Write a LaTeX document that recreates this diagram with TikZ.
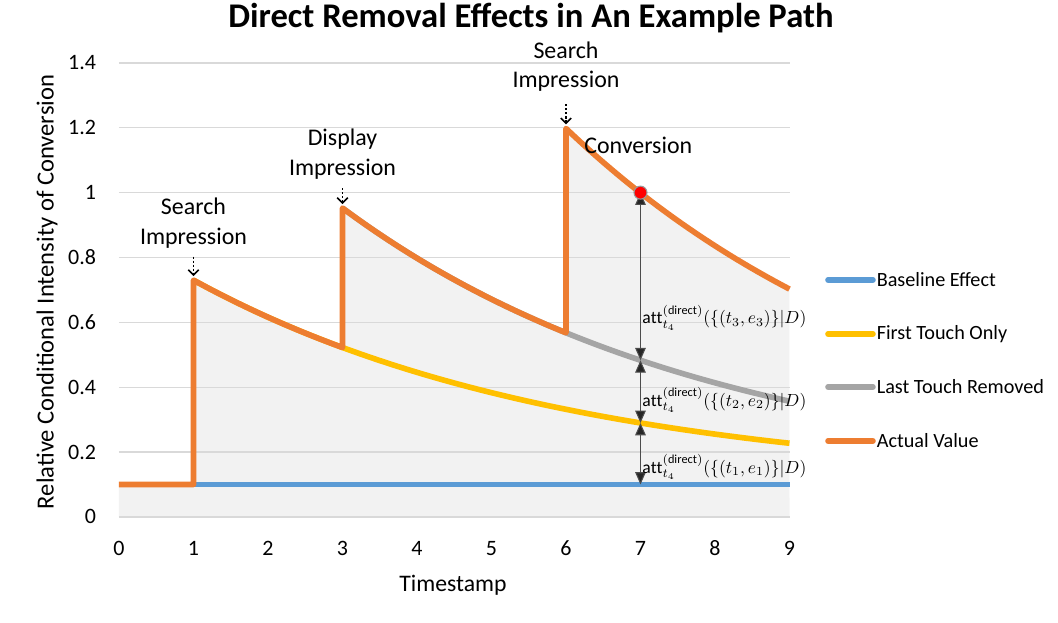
\documentclass[tikz,border=0pt]{standalone}
\usepackage{fontspec}
\setmainfont{Carlito}
\usepackage{amsmath}
\usetikzlibrary{arrows.meta}
\definecolor{baseblue}{HTML}{5B9BD5}
\definecolor{firstyellow}{HTML}{FFC000}
\definecolor{lastgray}{HTML}{A5A5A5}
\definecolor{actorange}{HTML}{ED7D31}
\definecolor{gridgray}{HTML}{D9D9D9}
\definecolor{areagray}{HTML}{F2F2F2}

\begin{document}
\begin{tikzpicture}[x=1.49cm, y=6.486cm,
  declare function={ea(\t)=0.63*exp(-0.2*(\t-1));
                     eb(\t)=0.43*exp(-0.2*(\t-3));
                     ec(\t)=0.63*exp(-0.2*(\t-6));}]
\tikzstyle{curve}=[line width=3.2pt, line join=round]
\tikzstyle{grid}=[draw=gridgray, line width=0.8pt]
\tikzstyle{tick}=[font=\fontsize{12.5}{14}\selectfont, inner sep=1pt]
\tikzstyle{lbl}=[font=\fontsize{13.6}{17}\selectfont, align=center, inner sep=1pt]
\tikzstyle{legtxt}=[anchor=west, font=\fontsize{11.5}{13}\selectfont, inner sep=2pt]
\tikzstyle{attlbl}=[anchor=west, font=\fontsize{10}{12}\selectfont, inner sep=0pt]
\tikzstyle{pointer}=[dash pattern=on 1.3pt off 1pt, line width=0.9pt, -{Straight Barb[length=3pt,width=6pt]},
                     shorten >=0.08cm]
\tikzstyle{gap}=[draw=black!70, line width=0.6pt,
                 {Triangle[length=7pt,width=6pt,fill=black!85]}-{Triangle[length=7pt,width=6pt,fill=black!85]}]
\useasboundingbox (-1.597,-0.327) rectangle (12.604,1.594);

% shaded area under the actual value
\fill[areagray] (0,0) -- (0,0.1) -- (1,0.1) -- (1,{0.1+ea(1)})
  -- plot[domain=1:3, samples=30] (\x,{0.1+ea(\x)})
  -- plot[domain=3:6, samples=30] (\x,{0.1+ea(\x)+eb(\x)})
  -- plot[domain=6:9, samples=30] (\x,{0.1+ea(\x)+eb(\x)+ec(\x)})
  -- (9,0) -- cycle;

% grid and axis labels
\foreach \v/\l in {0/0, 0.2/0.2, 0.4/0.4, 0.6/0.6, 0.8/0.8, 1/1, 1.2/1.2, 1.4/1.4}{
  \draw[grid] (0,\v) -- (9,\v);
  \node[tick, anchor=east] (yt\l) at (-0.28,\v) {\l};
}
\foreach \x in {0,...,9}
  \node[tick] (xt\x) at (\x,-0.096) {\x};

\node[font=\fontsize{13.5}{15}\selectfont] (xlab) at (4.483,-0.21) {Timestamp};
\node[font=\fontsize{14}{16}\selectfont, rotate=90] (ylab) at (-0.966,0.694)
  {Relative Conditional Intensity of Conversion};
\node[font=\fontsize{19.7}{22}\selectfont\bfseries] (title) at (5.53,1.539)
  {Direct Removal Effects in An Example Path};

% curves
\draw[curve, baseblue] (0,0.1) -- (9,0.1);
\draw[curve, firstyellow] plot[domain=1:9, samples=40] (\x,{0.1+ea(\x)});
\draw[curve, lastgray] plot[domain=3:9, samples=40] (\x,{0.1+ea(\x)+eb(\x)});
\draw[curve, actorange] (0,0.1) -- (1,0.1) -- (1,{0.1+ea(1)})
  -- plot[domain=1:3, samples=30] (\x,{0.1+ea(\x)})
  -- plot[domain=3:6, samples=30] (\x,{0.1+ea(\x)+eb(\x)})
  -- plot[domain=6:9, samples=30] (\x,{0.1+ea(\x)+eb(\x)+ec(\x)});

% touch points
\coordinate (p1) at (1,{0.1+ea(1)});
\coordinate (p2) at (3,{0.1+ea(3)+eb(3)});
\coordinate (p3) at (6,{0.1+ea(6)+eb(6)+ec(6)});
\coordinate (q1) at (1,0.803);
\coordinate (q2) at (3,1.014);
\coordinate (q3) at (6,1.273);
\node[lbl] (s1) at (1,0.9066) {Search\\Impression};
\node[lbl] (s2) at (3,1.1178) {Display\\Impression};
\node[lbl] (s3) at (6,1.3886) {Search\\Impression};
\node[lbl] (conv) at (6.97,1.147) {Conversion};
\draw[pointer] (q1) -- (p1);
\draw[pointer] (q2) -- (p2);
\draw[pointer] (q3) -- (p3);

% removal effects at t = 7
\coordinate (d0) at (7,1);
\coordinate (d1) at (7,{0.1+ea(7)+eb(7)});
\coordinate (d2) at (7,{0.1+ea(7)});
\coordinate (d3) at (7,0.1);
\draw[gap] (d0) -- (d1);
\draw[gap] (d1) -- (d2);
\draw[gap] (d2) -- (d3);
\node[circle, fill=red, draw=black!40, line width=0.6pt, minimum size=0.26cm, inner sep=0pt] (conpt) at (d0) {};
\node[attlbl] (att3) at (7.02,0.614) {$\mathrm{att}_{t_4}^{(\mathrm{direct})}(\{(t_3,e_3)\}|D)$};
\node[attlbl] (att2) at (7.02,0.361) {$\mathrm{att}_{t_4}^{(\mathrm{direct})}(\{(t_2,e_2)\}|D)$};
\node[attlbl] (att1) at (7.02,0.154) {$\mathrm{att}_{t_4}^{(\mathrm{direct})}(\{(t_1,e_1)\}|D)$};

% legend
\node[legtxt] (lg1) at (10.12,0.7308) {Baseline Effect};
\node[legtxt] (lg2) at (10.12,0.5643) {First Touch Only};
\node[legtxt] (lg3) at (10.12,0.4009) {Last Touch Removed};
\node[legtxt] (lg4) at (10.12,0.2343) {Actual Value};
\coordinate (m1) at (9.517,0.7308);
\coordinate (m2) at (9.517,0.5643);
\coordinate (m3) at (9.517,0.4009);
\coordinate (m4) at (9.517,0.2343);
\draw[curve, line cap=round, baseblue] (m1) -- (lg1.west);
\draw[curve, line cap=round, firstyellow] (m2) -- (lg2.west);
\draw[curve, line cap=round, lastgray] (m3) -- (lg3.west);
\draw[curve, line cap=round, actorange] (m4) -- (lg4.west);
\end{tikzpicture}
\end{document}
